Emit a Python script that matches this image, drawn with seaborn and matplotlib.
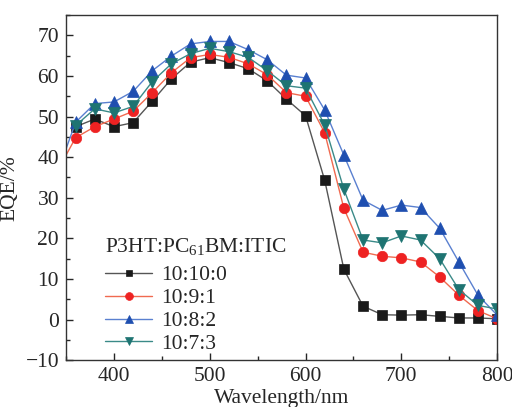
import numpy as np
import pandas as pd
import matplotlib
matplotlib.use("Agg")
import matplotlib.pyplot as plt
import seaborn as sns
from matplotlib.ticker import MultipleLocator

wavelength = [340, 360, 380, 400, 420, 440, 460, 480, 500, 520, 540, 560, 580, 600,
              620, 640, 660, 680, 700, 720, 740, 760, 780, 800]
eqe_10_10_0 = [np.nan, 47.5, 49.4, 47.5, 48.5, 53.8, 59.3, 63.4, 64.5, 63.3, 61.8, 58.8, 54.3, 50.2,
               34.3, 12.4, 3.3, 1.2, 1.1, 1.2, 0.8, 0.4, 0.4, 0.2]
eqe_10_9_1 = [36.2, 44.8, 47.5, 49.4, 51.3, 55.9, 60.8, 64.5, 65.3, 64.6, 63.0, 60.3, 55.9, 55.0,
              46.0, 27.4, 16.6, 15.6, 15.2, 14.2, 10.5, 6.0, 2.2, 0.2]
eqe_10_8_2 = [35.5, 48.6, 53.2, 53.6, 56.2, 61.3, 64.9, 67.9, 68.5, 68.5, 66.5, 64.0, 60.2, 59.5,
              51.6, 40.5, 29.4, 26.9, 28.2, 27.6, 22.5, 14.2, 6.0, 1.1]
eqe_10_7_3 = [np.nan, 47.8, 51.9, 50.9, 52.5, 58.6, 63.0, 65.5, 66.8, 66.0, 64.6, 61.3, 57.6, 57.0,
              47.9, 32.1, 19.6, 18.9, 20.6, 19.6, 15.0, 7.4, 3.5, 2.6]
series_labels = ["10:10:0", "10:9:1", "10:8:2", "10:7:3"]
legend_title = "P3HT:PC$_{61}$BM:ITIC"

sns.set_style("white")
plt.rcParams["font.family"] = ["Liberation Serif", "DejaVu Serif"]
plt.rcParams["mathtext.fontset"] = "custom"
plt.rcParams["mathtext.rm"] = "Liberation Serif"
plt.rcParams["mathtext.it"] = "Liberation Serif:italic"
plt.rcParams["axes.unicode_minus"] = True

fig = plt.figure(figsize=(5.12, 4.07), dpi=100)
ax = fig.add_axes([0.129, 0.115, 0.842, 0.848])

styles = [
    dict(marker="s", line="#555555", mfc="#1a1a1a", ms=6.5),
    dict(marker="o", line="#f06a50", mfc="#ee2222", ms=7.5),
    dict(marker="^", line="#5a80d0", mfc="#1f4fb0", ms=8),
    dict(marker="v", line="#3a8a88", mfc="#1e7472", ms=8),
]
all_series = [eqe_10_10_0, eqe_10_9_1, eqe_10_8_2, eqe_10_7_3]

for vals, lab, st in zip(all_series, series_labels, styles):
    df = pd.DataFrame({"wl": wavelength, "eqe": vals}).dropna()
    sns.lineplot(data=df, x="wl", y="eqe", ax=ax, color=st["line"], lw=1.0,
                 marker=st["marker"], markersize=st["ms"],
                 markerfacecolor=st["mfc"], markeredgecolor=st["mfc"],
                 markeredgewidth=0.5, label=lab, sort=False)

ax.set_xlim(350, 800)
ax.set_ylim(-10, 75)
ax.xaxis.set_major_locator(MultipleLocator(100))
ax.xaxis.set_minor_locator(MultipleLocator(50))
ax.yaxis.set_major_locator(MultipleLocator(10))
ax.yaxis.set_minor_locator(MultipleLocator(5))
ax.tick_params(axis="both", which="major", direction="in", length=5, width=1,
               labelsize=15.5, top=False, right=False, bottom=True, left=True, pad=5)
ax.tick_params(axis="both", which="minor", direction="in", length=3, width=1,
               top=False, right=False, bottom=True, left=True)
for sp in ax.spines.values():
    sp.set_color("#333333")
    sp.set_linewidth(1.0)

ax.set_xlabel("Wavelength/nm", fontsize=15.5, labelpad=2)
ax.set_ylabel("EQE/%", fontsize=15.5, labelpad=4)

leg = ax.legend(title=legend_title, loc="upper left", bbox_to_anchor=(0.07, 0.385),
                frameon=False, fontsize=15.5, title_fontsize=15.5, handlelength=2.2,
                handletextpad=0.4, labelspacing=0.13, borderaxespad=0,
                markerscale=0.75)
leg._legend_box.align = "left"
leg._legend_box.sep = 6

fig.savefig("out.png", dpi=100)
